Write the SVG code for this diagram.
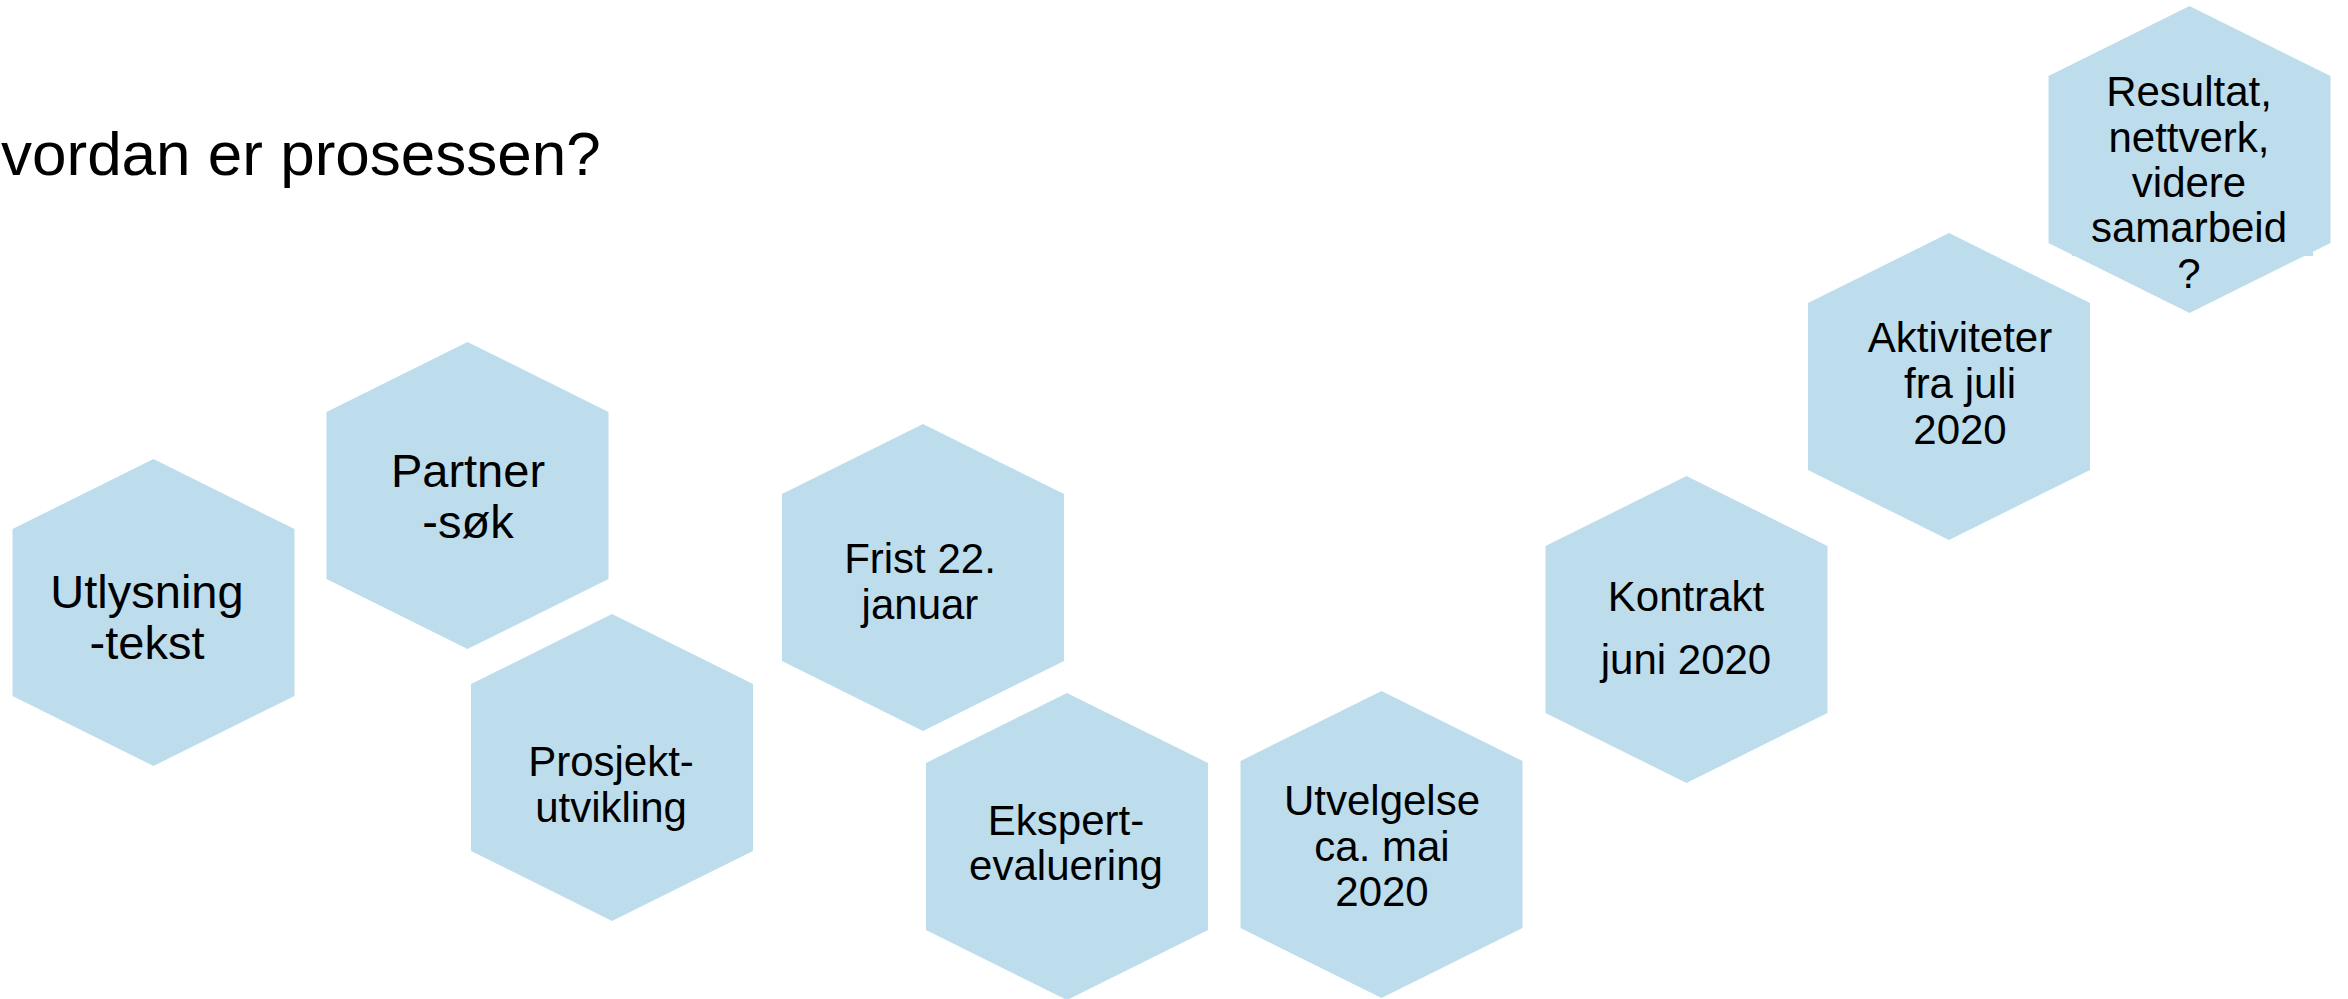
<svg xmlns="http://www.w3.org/2000/svg" xmlns:xlink="http://www.w3.org/1999/xlink" width="2348" height="999" viewBox="0 0 2348 999">
<style>
.hex{fill:#BDDDED}
text{font-family:"Liberation Sans",Arial,sans-serif;fill:#000;text-anchor:middle}
.big{font-size:47px}
.t{font-size:42px}
.title{font-size:62px;text-anchor:start}
</style>
<defs>
<polygon id="hx" points="141,0 282,70 282,237 141,307 0,237 0,70"/>
</defs>
<rect width="2348" height="999" fill="#fff"/>
<text class="title" x="1" y="175">vordan er prosessen?</text>
<g id="n1"><use xlink:href="#hx" class="hex" x="12.5" y="459"/><text class="big" x="147"><tspan x="147" y="608">Utlysning</tspan><tspan x="147" y="659">-tekst</tspan></text></g>
<g id="n2"><use xlink:href="#hx" class="hex" x="326.5" y="342"/><text class="big" x="468"><tspan x="468" y="487">Partner</tspan><tspan x="468" y="538">-søk</tspan></text></g>
<g id="n3"><use xlink:href="#hx" class="hex" x="471" y="614"/><text class="t"><tspan x="611" y="776">Prosjekt-</tspan><tspan x="611" y="822">utvikling</tspan></text></g>
<g id="n4"><use xlink:href="#hx" class="hex" x="782" y="424"/><text class="t"><tspan x="920" y="573">Frist 22.</tspan><tspan x="920" y="619">januar</tspan></text></g>
<g id="n5"><use xlink:href="#hx" class="hex" x="926" y="693"/><text class="t"><tspan x="1066" y="835">Ekspert-</tspan><tspan x="1066" y="880">evaluering</tspan></text></g>
<g id="n6"><use xlink:href="#hx" class="hex" x="1240.5" y="691"/><text class="t"><tspan x="1382" y="815">Utvelgelse</tspan><tspan x="1382" y="861">ca. mai</tspan><tspan x="1382" y="906">2020</tspan></text></g>
<g id="n7"><use xlink:href="#hx" class="hex" x="1545.5" y="476"/><text class="t"><tspan x="1686" y="611">Kontrakt</tspan><tspan x="1686" y="674">juni 2020</tspan></text></g>
<g id="n8"><use xlink:href="#hx" class="hex" x="1808" y="233"/><text class="t"><tspan x="1960" y="352">Aktiviteter</tspan><tspan x="1960" y="398">fra juli</tspan><tspan x="1960" y="444">2020</tspan></text></g>
<g id="n9"><use xlink:href="#hx" class="hex" x="2048.5" y="6"/><rect class="hex" x="2072" y="236" width="241" height="20"/><text class="t"><tspan x="2189" y="106">Resultat,</tspan><tspan x="2189" y="152">nettverk,</tspan><tspan x="2189" y="197">videre</tspan><tspan x="2189" y="242">samarbeid</tspan><tspan x="2189" y="288">?</tspan></text></g>
<g id="connectors"/>
</svg>
